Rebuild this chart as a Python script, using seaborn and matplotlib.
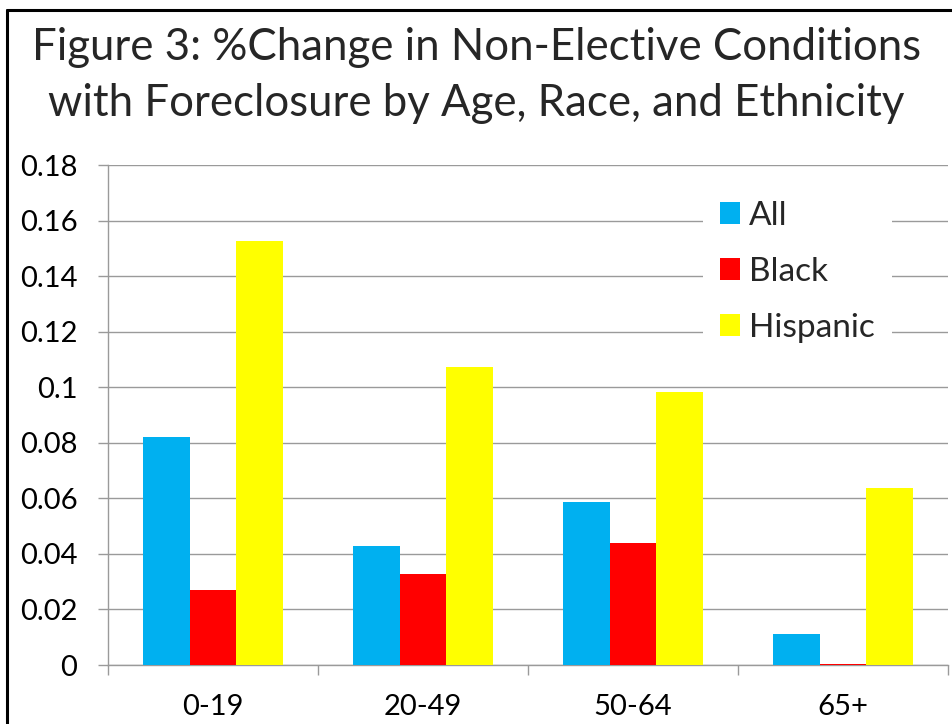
import numpy as np
import pandas as pd
import seaborn as sns
import matplotlib.pyplot as plt
from matplotlib.lines import Line2D

# Chart data
age_groups = ["0-19", "20-49", "50-64", "65+"]
series_names = ["All", "Black", "Hispanic"]
all_change = [0.0821, 0.0427, 0.0587, 0.0110]
black_change = [0.0269, 0.0327, 0.0439, 0.0005]
hispanic_change = [0.1526, 0.1073, 0.0983, 0.0637]
series_colors = ["#00B0F0", "#FF0000", "#FFFF00"]
y_ticks = [0, 0.02, 0.04, 0.06, 0.08, 0.10, 0.12, 0.14, 0.16, 0.18]
y_tick_labels = ["0", "0.02", "0.04", "0.06", "0.08", "0.1", "0.12", "0.14", "0.16", "0.18"]
title_lines = ["Figure 3: %Change in Non-Elective Conditions",
               "with Foreclosure by Age, Race, and Ethnicity"]

df = pd.DataFrame({
    "Age": age_groups * 3,
    "Group": np.repeat(series_names, len(age_groups)),
    "Change": all_change + black_change + hispanic_change,
})

sns.set_theme(style="white")
plt.rcParams["font.family"] = ["Lato", "DejaVu Sans"]

W, H = 953, 724
fig = plt.figure(figsize=(W / 100, H / 100), dpi=100)
fig.patch.set_facecolor("white")

# plot area in pixel terms
left_px, right_px, top_px, bottom_px = 108, 948, 165, 665
ax = fig.add_axes([left_px / W, 1 - bottom_px / H,
                   (right_px - left_px) / W, (bottom_px - top_px) / H])

sns.barplot(data=df, x="Age", y="Change", hue="Group", hue_order=series_names,
            order=age_groups, palette=series_colors, saturation=1,
            width=0.667, linewidth=0, ax=ax, zorder=3)

grid_color = "#9a9a9a"
ax.set_xlim(-0.5, len(age_groups) - 0.5)
ax.set_ylim(0, 0.18)
ax.set_yticks(y_ticks)
ax.set_yticklabels(y_tick_labels)
ax.yaxis.grid(True, color=grid_color, linewidth=1.0, zorder=0)
ax.set_axisbelow(True)
ax.set_xlabel("")
ax.set_ylabel("")

for side in ["top", "right"]:
    ax.spines[side].set_visible(False)
for side in ["left", "bottom"]:
    ax.spines[side].set_color(grid_color)
    ax.spines[side].set_linewidth(1.0)

ax.tick_params(axis="y", which="major", left=True, length=7, width=1,
               color=grid_color, pad=15, labelsize=21, labelcolor="black")
ax.tick_params(axis="x", which="major", bottom=False, length=0, pad=21,
               labelsize=21, labelcolor="black")
ax.set_xticks(np.arange(-0.5, len(age_groups)), minor=True)
ax.tick_params(axis="x", which="minor", bottom=True, length=7, width=1,
               color=grid_color)

handles, labels = ax.get_legend_handles_labels()
leg = ax.legend(handles, labels, loc="upper left", bbox_to_anchor=(0.689, 0.995),
                frameon=True, facecolor="white", edgecolor="none", framealpha=1,
                fontsize=24, handlelength=0.6, handleheight=0.6,
                handletextpad=0.27, labelspacing=0.78, borderpad=0.5)

# Title
fig.text(0.5, 1 - 48 / H, title_lines[0], ha="center", va="center", fontsize=31.5)
fig.text(0.5, 1 - 104 / H, title_lines[1], ha="center", va="center", fontsize=31.5)

# Outer frame (cropped at right and bottom)
fig.add_artist(Line2D([7 / W, 1.0], [1 - 9.5 / H, 1 - 9.5 / H],
                      transform=fig.transFigure, color="black", linewidth=2.2))
fig.add_artist(Line2D([7 / W, 7 / W], [0.0, 1 - 9.5 / H],
                      transform=fig.transFigure, color="black", linewidth=2.2))

fig.savefig("out.png", dpi=100, facecolor="white")
